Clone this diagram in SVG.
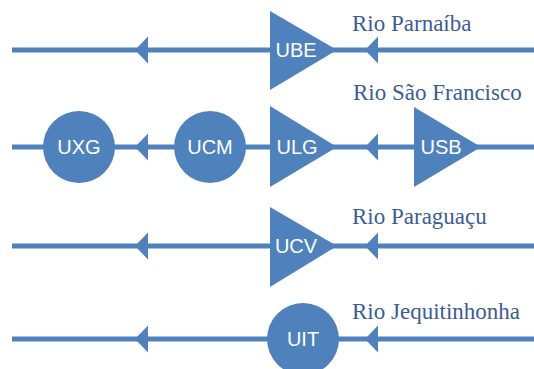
<svg xmlns="http://www.w3.org/2000/svg" width="534" height="369" viewBox="0 0 534 369">
  <style>
    .river { stroke: #4f81bd; stroke-width: 5; fill: none; }
    .head { fill: #4f81bd; }
    .shape { fill: #4f81bd; }
    .code { font-family: "Liberation Sans", Arial, sans-serif; font-size: 20px; fill: #ffffff; text-anchor: middle; }
    .name { font-family: "Liberation Serif", "Times New Roman", serif; font-size: 23px; fill: #3c5d91; }
  </style>
  <defs>
    <polygon id="arrow" points="0,0 13,-13.5 13,13.5"/>
  </defs>

  <!-- river lines with flow arrows -->
  <g id="connectors">
    <line class="river" x1="12" y1="50" x2="534" y2="50"/>
    <line class="river" x1="12" y1="147" x2="534" y2="147"/>
    <line class="river" x1="12" y1="246" x2="534" y2="246"/>
    <line class="river" x1="12" y1="339" x2="534" y2="339"/>
    <use href="#arrow" class="head" x="135" y="50"/>
    <use href="#arrow" class="head" x="365" y="50"/>
    <use href="#arrow" class="head" x="135" y="147"/>
    <use href="#arrow" class="head" x="365" y="147"/>
    <use href="#arrow" class="head" x="135" y="246"/>
    <use href="#arrow" class="head" x="365" y="246"/>
    <use href="#arrow" class="head" x="135" y="339"/>
    <use href="#arrow" class="head" x="365" y="339"/>
  </g>

  <!-- river names -->
  <text class="name" x="352" y="31">Rio Parnaíba</text>
  <text class="name" x="353" y="100">Rio São Francisco</text>
  <text class="name" x="352" y="224">Rio Paraguaçu</text>
  <text class="name" x="352" y="319">Rio Jequitinhonha</text>

  <!-- plants -->
  <g id="UBE">
    <polygon class="shape" points="270,11 337,50 270,90"/>
    <text class="code" x="296" y="57">UBE</text>
  </g>
  <g id="UXG">
    <circle class="shape" cx="79" cy="147" r="36"/>
    <text class="code" x="79" y="154">UXG</text>
  </g>
  <g id="UCM">
    <circle class="shape" cx="210" cy="147" r="36"/>
    <text class="code" x="210" y="154">UCM</text>
  </g>
  <g id="ULG">
    <polygon class="shape" points="270,106 337,147 270,187"/>
    <text class="code" x="297" y="154">ULG</text>
  </g>
  <g id="USB">
    <polygon class="shape" points="414,107 481,147 414,187"/>
    <text class="code" x="441" y="154">USB</text>
  </g>
  <g id="UCV">
    <polygon class="shape" points="270,207 337,246 270,287"/>
    <text class="code" x="296" y="253">UCV</text>
  </g>
  <g id="UIT">
    <circle class="shape" cx="303" cy="339" r="36"/>
    <text class="code" x="303" y="346">UIT</text>
  </g>
</svg>
